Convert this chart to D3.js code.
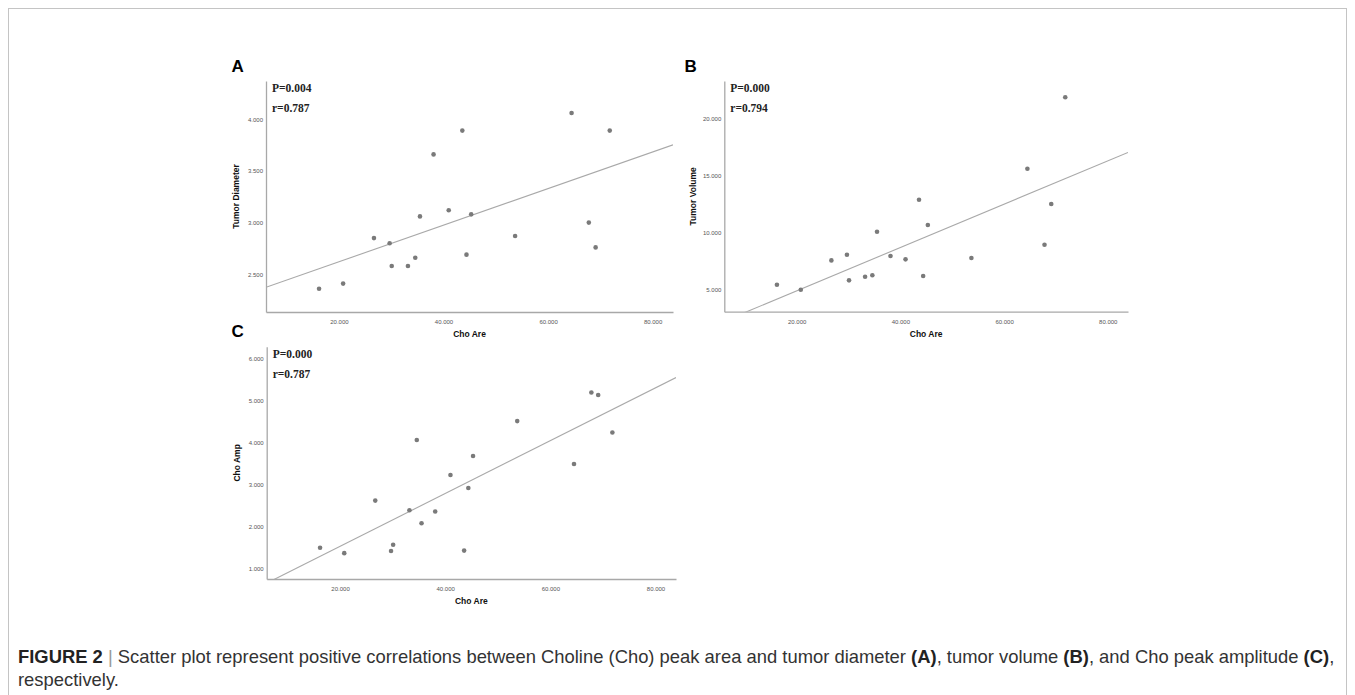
<!DOCTYPE html>
<html>
<head>
<meta charset="utf-8">
<script src="https://cdn.jsdelivr.net/npm/d3@7"></script>
<style>
  body { margin: 0; background: #fff; }
  .tick-text { font-family: "Liberation Sans", Arial, sans-serif; font-size: 6px; fill: #555; }
  .axis-title { font-family: "Liberation Sans", Arial, sans-serif; font-size: 8.5px; font-weight: bold; fill: #111; }
  .stat-text { font-family: "Liberation Serif", "Times New Roman", serif; font-size: 11.5px; font-weight: bold; fill: #222; }
  .panel-label { font-family: "Liberation Sans", Arial, sans-serif; font-size: 17px; font-weight: bold; fill: #000; }
  .caption { font-family: "Liberation Sans", Arial, sans-serif; font-size: 18.4px; fill: #333; }
</style>
</head>
<body>
<div id="chart"></div>
<script>
// Cho peak area (x) shared by all three panels
const choAre = [16.2, 20.8, 26.7, 29.7, 30.1, 33.2, 34.6, 35.5, 38.1, 41.0, 43.6, 44.4, 45.3, 53.7, 64.5, 67.8, 69.1, 71.8];
const tumorDiameter = [2.36, 2.41, 2.85, 2.80, 2.58, 2.58, 2.66, 3.06, 3.66, 3.12, 3.89, 2.69, 3.08, 2.87, 4.06, 3.00, 2.76, 3.89];
const tumorVolume = [5.40, 4.96, 7.54, 8.04, 5.79, 6.11, 6.23, 10.05, 7.92, 7.63, 12.86, 6.17, 10.64, 7.75, 15.58, 8.91, 12.48, 21.84];
const choAmp = [1.50, 1.37, 2.62, 1.42, 1.57, 2.39, 4.06, 2.08, 2.36, 3.23, 1.43, 2.92, 3.68, 4.51, 3.49, 5.19, 5.13, 4.24];

const xTicks = [20, 40, 60, 80];
const xDomain = [6.05, 83.9];

// fit lines: [intercept, slope]
const fitA = [2.267, 0.0177];
const fitB = [1.067, 0.190];
const fitC = [0.276, 0.0628];

const panels = [
  { label: "A", yTitle: "Tumor Diameter", y: tumorDiameter, yDomain: [2.135, 4.37], yTicks: [2.5, 3, 3.5, 4],
    fit: fitA, stats: ["P=0.004", "r=0.787"], box: { left: 266, right: 673, top: 81, bottom: 312 } },
  { label: "B", yTitle: "Tumor Volume", y: tumorVolume, yDomain: [3.04, 23.27], yTicks: [5, 10, 15, 20],
    fit: fitB, stats: ["P=0.000", "r=0.794"], box: { left: 724.3, right: 1128, top: 81, bottom: 311.7 } },
  { label: "C", yTitle: "Cho Amp", y: choAmp, yDomain: [0.755, 6.28], yTicks: [1, 2, 3, 4, 5, 6],
    fit: fitC, stats: ["P=0.000", "r=0.787"], box: { left: 266.7, right: 676, top: 346.7, bottom: 579 } }
];

const W = 1355, H = 695;
const svg = d3.select("#chart").append("svg")
  .attr("width", W)
  .attr("height", H);

// outer frame
svg.append("rect")
  .attr("x", 8.5).attr("y", 8.5)
  .attr("width", 1338).attr("height", 700)
  .attr("fill", "none")
  .attr("stroke", "#c4c4c4")
  .attr("stroke-width", 1);

const fmt = d3.format(".3f");

panels.forEach((p, i) => {
  const b = p.box;
  const x = d3.scaleLinear().domain(xDomain).range([b.left, b.right]);
  const y = d3.scaleLinear().domain(p.yDomain).range([b.bottom, b.top]);
  const g = svg.append("g");

  g.append("clipPath").attr("id", "clip" + i)
    .append("rect")
    .attr("x", b.left).attr("y", b.top)
    .attr("width", b.right - b.left).attr("height", b.bottom - b.top);

  // axes: only the line and labels, no tick marks
  const xAxis = g.append("g")
    .attr("transform", `translate(0,${b.bottom})`)
    .call(d3.axisBottom(x).tickValues(xTicks).tickFormat(fmt).tickSize(0).tickPadding(8));
  xAxis.select(".domain").attr("stroke", "#a8a8a8").attr("stroke-width", 1.3);
  xAxis.selectAll("text").attr("class", "tick-text").attr("fill", null);

  const yAxis = g.append("g")
    .attr("transform", `translate(${b.left},0)`)
    .call(d3.axisLeft(y).tickValues(p.yTicks).tickFormat(fmt).tickSize(0).tickPadding(3));
  yAxis.select(".domain").attr("stroke", "#a8a8a8").attr("stroke-width", 1.3);
  yAxis.selectAll("text").attr("class", "tick-text").attr("fill", null);

  // regression line
  g.append("line")
    .attr("clip-path", `url(#clip${i})`)
    .attr("x1", x(xDomain[0])).attr("y1", y(p.fit[0] + p.fit[1] * xDomain[0]))
    .attr("x2", x(xDomain[1])).attr("y2", y(p.fit[0] + p.fit[1] * xDomain[1]))
    .attr("stroke", "#a9a9a9")
    .attr("stroke-width", 1.1);

  // points
  g.selectAll("circle")
    .data(choAre.map((v, j) => ({ x: v, y: p.y[j] })))
    .enter()
    .append("circle")
    .attr("cx", d => x(d.x))
    .attr("cy", d => y(d.y))
    .attr("r", 2.3)
    .attr("fill", "#7a7a7a");

  g.append("text")
    .attr("class", "axis-title")
    .attr("text-anchor", "middle")
    .attr("x", (b.left + b.right) / 2)
    .attr("y", b.bottom + 25)
    .text("Cho Are");

  g.append("text")
    .attr("class", "axis-title")
    .attr("text-anchor", "middle")
    .attr("transform", `translate(${b.left - (i === 1 ? 31.5 : 29.5)},${(b.top + b.bottom) / 2}) rotate(-90)`)
    .attr("dy", "0.35em")
    .text(p.yTitle);

  g.selectAll(".stat-text")
    .data(p.stats)
    .enter()
    .append("text")
    .attr("class", "stat-text")
    .attr("x", b.left + 6)
    .attr("y", (d, k) => b.top + 11 + k * 20)
    .text(d => d);

  g.append("text")
    .attr("class", "panel-label")
    .attr("x", i === 1 ? 684.5 : 231.5)
    .attr("y", b.top - 9.5)
    .text(p.label);
});

// caption
const cap = svg.append("text")
  .attr("class", "caption")
  .attr("x", 18)
  .attr("y", 663);
cap.append("tspan").attr("font-weight", "bold").attr("fill", "#222").text("FIGURE 2");
cap.append("tspan").attr("fill", "#999").text(" | ");
cap.append("tspan").text("Scatter plot represent positive correlations between Choline (Cho) peak area and tumor diameter ");
cap.append("tspan").attr("font-weight", "bold").attr("fill", "#222").text("(A)");
cap.append("tspan").text(", tumor volume ");
cap.append("tspan").attr("font-weight", "bold").attr("fill", "#222").text("(B)");
cap.append("tspan").text(", and Cho peak amplitude ");
cap.append("tspan").attr("font-weight", "bold").attr("fill", "#222").text("(C)");
cap.append("tspan").text(",");

svg.append("text")
  .attr("class", "caption")
  .attr("x", 18)
  .attr("y", 686)
  .text("respectively.");
</script>
</body>
</html>
